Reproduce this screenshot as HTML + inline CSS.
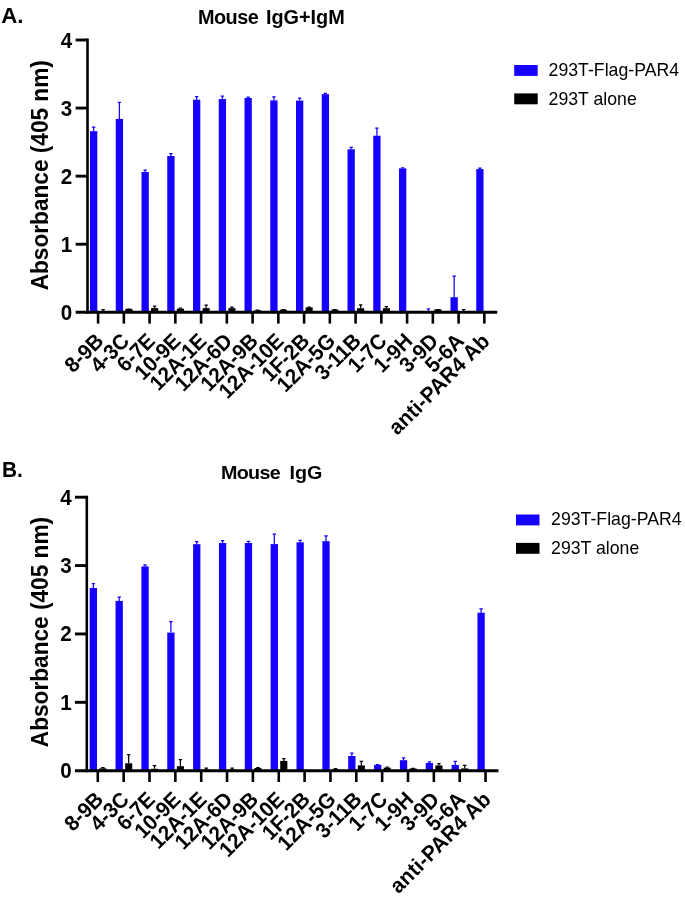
<!DOCTYPE html>
<html><head><meta charset="utf-8"><title>Figure</title>
<style>
html,body{margin:0;padding:0;background:#fff;}
svg{display:block;}
text{font-family:"Liberation Sans",Arial,sans-serif;fill:#000;}
.ab{font-weight:bold;font-size:20.6px;}
.yl{font-weight:bold;font-size:22.65px;}
.ti{font-weight:bold;font-size:19px;}
.lt{font-weight:bold;font-size:22px;}
.lg{font-size:17.7px;}
</style></head><body>
<svg width="685" height="900" viewBox="0 0 685 900">
<rect width="685" height="900" fill="#fff"/>
<g id="chartA">
<rect x="90.00" y="131.20" width="7.3" height="181.10" fill="#1600ff"/>
<path d="M93.65 131.20V127.00M91.95 127.00H95.35" stroke="#1600ff" stroke-width="1.25" fill="none"/>
<rect x="99.60" y="311.20" width="7.1" height="1.10" fill="#000"/>
<path d="M103.15 311.20V309.50M101.45 309.50H104.85" stroke="#000" stroke-width="1.25" fill="none"/>
<rect x="115.75" y="118.90" width="7.3" height="193.40" fill="#1600ff"/>
<path d="M119.40 118.90V102.30M117.70 102.30H121.10" stroke="#1600ff" stroke-width="1.25" fill="none"/>
<rect x="125.35" y="308.90" width="7.1" height="3.40" fill="#000"/>
<path d="M128.90 308.90V309.10M127.20 309.10H130.60" stroke="#000" stroke-width="1.25" fill="none"/>
<rect x="141.50" y="172.00" width="7.3" height="140.30" fill="#1600ff"/>
<path d="M145.15 172.00V170.00M143.45 170.00H146.85" stroke="#1600ff" stroke-width="1.25" fill="none"/>
<rect x="151.10" y="308.10" width="7.1" height="4.20" fill="#000"/>
<path d="M154.65 308.10V306.10M152.95 306.10H156.35" stroke="#000" stroke-width="1.25" fill="none"/>
<rect x="167.25" y="156.00" width="7.3" height="156.30" fill="#1600ff"/>
<path d="M170.90 156.00V153.70M169.20 153.70H172.60" stroke="#1600ff" stroke-width="1.25" fill="none"/>
<rect x="176.85" y="308.70" width="7.1" height="3.60" fill="#000"/>
<path d="M180.40 308.70V308.00M178.70 308.00H182.10" stroke="#000" stroke-width="1.25" fill="none"/>
<rect x="193.00" y="99.70" width="7.3" height="212.60" fill="#1600ff"/>
<path d="M196.65 99.70V96.60M194.95 96.60H198.35" stroke="#1600ff" stroke-width="1.25" fill="none"/>
<rect x="202.60" y="308.10" width="7.1" height="4.20" fill="#000"/>
<path d="M206.15 308.10V305.10M204.45 305.10H207.85" stroke="#000" stroke-width="1.25" fill="none"/>
<rect x="218.75" y="99.05" width="7.3" height="213.25" fill="#1600ff"/>
<path d="M222.40 99.05V96.10M220.70 96.10H224.10" stroke="#1600ff" stroke-width="1.25" fill="none"/>
<rect x="228.35" y="308.10" width="7.1" height="4.20" fill="#000"/>
<path d="M231.90 308.10V307.00M230.20 307.00H233.60" stroke="#000" stroke-width="1.25" fill="none"/>
<rect x="244.50" y="98.00" width="7.3" height="214.30" fill="#1600ff"/>
<path d="M248.15 98.00V97.00M246.45 97.00H249.85" stroke="#1600ff" stroke-width="1.25" fill="none"/>
<rect x="254.10" y="310.30" width="7.1" height="2.00" fill="#000"/>
<path d="M257.65 310.30V310.10M255.95 310.10H259.35" stroke="#000" stroke-width="1.25" fill="none"/>
<rect x="270.25" y="100.40" width="7.3" height="211.90" fill="#1600ff"/>
<path d="M273.90 100.40V96.80M272.20 96.80H275.60" stroke="#1600ff" stroke-width="1.25" fill="none"/>
<rect x="279.85" y="309.60" width="7.1" height="2.70" fill="#000"/>
<path d="M283.40 309.60V309.60M281.70 309.60H285.10" stroke="#000" stroke-width="1.25" fill="none"/>
<rect x="296.00" y="100.60" width="7.3" height="211.70" fill="#1600ff"/>
<path d="M299.65 100.60V98.10M297.95 98.10H301.35" stroke="#1600ff" stroke-width="1.25" fill="none"/>
<rect x="305.60" y="307.40" width="7.1" height="4.90" fill="#000"/>
<path d="M309.15 307.40V307.20M307.45 307.20H310.85" stroke="#000" stroke-width="1.25" fill="none"/>
<rect x="321.75" y="94.20" width="7.3" height="218.10" fill="#1600ff"/>
<path d="M325.40 94.20V93.30M323.70 93.30H327.10" stroke="#1600ff" stroke-width="1.25" fill="none"/>
<rect x="331.35" y="309.60" width="7.1" height="2.70" fill="#000"/>
<path d="M334.90 309.60V309.60M333.20 309.60H336.60" stroke="#000" stroke-width="1.25" fill="none"/>
<rect x="347.50" y="149.30" width="7.3" height="163.00" fill="#1600ff"/>
<path d="M351.15 149.30V147.30M349.45 147.30H352.85" stroke="#1600ff" stroke-width="1.25" fill="none"/>
<rect x="357.10" y="308.20" width="7.1" height="4.10" fill="#000"/>
<path d="M360.65 308.20V304.90M358.95 304.90H362.35" stroke="#000" stroke-width="1.25" fill="none"/>
<rect x="373.25" y="135.70" width="7.3" height="176.60" fill="#1600ff"/>
<path d="M376.90 135.70V128.10M375.20 128.10H378.60" stroke="#1600ff" stroke-width="1.25" fill="none"/>
<rect x="382.85" y="308.20" width="7.1" height="4.10" fill="#000"/>
<path d="M386.40 308.20V306.50M384.70 306.50H388.10" stroke="#000" stroke-width="1.25" fill="none"/>
<rect x="399.00" y="168.40" width="7.3" height="143.90" fill="#1600ff"/>
<path d="M402.65 168.40V167.80M400.95 167.80H404.35" stroke="#1600ff" stroke-width="1.25" fill="none"/>
<rect x="408.60" y="311.00" width="7.1" height="1.30" fill="#000"/>
<rect x="424.75" y="311.50" width="7.3" height="0.80" fill="#1600ff"/>
<path d="M428.40 311.50V308.80M426.70 308.80H430.10" stroke="#1600ff" stroke-width="1.25" fill="none"/>
<rect x="434.35" y="309.30" width="7.1" height="3.00" fill="#000"/>
<path d="M437.90 309.30V309.60M436.20 309.60H439.60" stroke="#000" stroke-width="1.25" fill="none"/>
<rect x="450.50" y="297.20" width="7.3" height="15.10" fill="#1600ff"/>
<path d="M454.15 297.20V276.10M452.45 276.10H455.85" stroke="#1600ff" stroke-width="1.25" fill="none"/>
<rect x="460.10" y="311.00" width="7.1" height="1.30" fill="#000"/>
<path d="M463.65 311.00V309.60M461.95 309.60H465.35" stroke="#000" stroke-width="1.25" fill="none"/>
<rect x="476.25" y="169.10" width="7.3" height="143.20" fill="#1600ff"/>
<path d="M479.90 169.10V168.10M478.20 168.10H481.60" stroke="#1600ff" stroke-width="1.25" fill="none"/>
<rect x="485.85" y="312.00" width="7.1" height="0.30" fill="#000"/>
<path d="M87.50 38.55V313.75" stroke="#000" stroke-width="2.6" fill="none"/>
<path d="M75.65 312.30H497.23" stroke="#000" stroke-width="2.9" fill="none"/>
<path d="M75.65 244.23H87.50" stroke="#000" stroke-width="2.9"/>
<path d="M75.65 176.15H87.50" stroke="#000" stroke-width="2.9"/>
<path d="M75.65 108.07H87.50" stroke="#000" stroke-width="2.9"/>
<path d="M75.65 40.00H87.50" stroke="#000" stroke-width="2.9"/>
<text transform="translate(72.30,319.80) scale(1,1.04)" text-anchor="end" class="ab">0</text>
<text transform="translate(72.30,251.73) scale(1,1.04)" text-anchor="end" class="ab">1</text>
<text transform="translate(72.30,183.65) scale(1,1.04)" text-anchor="end" class="ab">2</text>
<text transform="translate(72.30,115.57) scale(1,1.04)" text-anchor="end" class="ab">3</text>
<text transform="translate(72.30,47.50) scale(1,1.04)" text-anchor="end" class="ab">4</text>
<path d="M98.10 312.30V323.60" stroke="#000" stroke-width="2.6"/>
<text transform="translate(104.80,342.30) rotate(-45) scale(1,1.04)" text-anchor="end" class="ab">8-9B</text>
<path d="M123.85 312.30V323.60" stroke="#000" stroke-width="2.6"/>
<text transform="translate(130.55,342.30) rotate(-45) scale(1,1.04)" text-anchor="end" class="ab">4-3C</text>
<path d="M149.60 312.30V323.60" stroke="#000" stroke-width="2.6"/>
<text transform="translate(156.30,342.30) rotate(-45) scale(1,1.04)" text-anchor="end" class="ab">6-7E</text>
<path d="M175.35 312.30V323.60" stroke="#000" stroke-width="2.6"/>
<text transform="translate(182.05,342.30) rotate(-45) scale(1,1.04)" text-anchor="end" class="ab">10-9E</text>
<path d="M201.10 312.30V323.60" stroke="#000" stroke-width="2.6"/>
<text transform="translate(207.80,342.30) rotate(-45) scale(1,1.04)" text-anchor="end" class="ab">12A-1E</text>
<path d="M226.85 312.30V323.60" stroke="#000" stroke-width="2.6"/>
<text transform="translate(233.55,342.30) rotate(-45) scale(1,1.04)" text-anchor="end" class="ab">12A-6D</text>
<path d="M252.60 312.30V323.60" stroke="#000" stroke-width="2.6"/>
<text transform="translate(259.30,342.30) rotate(-45) scale(1,1.04)" text-anchor="end" class="ab">12A-9B</text>
<path d="M278.35 312.30V323.60" stroke="#000" stroke-width="2.6"/>
<text transform="translate(285.05,342.30) rotate(-45) scale(1,1.04)" text-anchor="end" class="ab">12A-10E</text>
<path d="M304.10 312.30V323.60" stroke="#000" stroke-width="2.6"/>
<text transform="translate(310.80,342.30) rotate(-45) scale(1,1.04)" text-anchor="end" class="ab">1F-2B</text>
<path d="M329.85 312.30V323.60" stroke="#000" stroke-width="2.6"/>
<text transform="translate(336.55,342.30) rotate(-45) scale(1,1.04)" text-anchor="end" class="ab">12A-5G</text>
<path d="M355.60 312.30V323.60" stroke="#000" stroke-width="2.6"/>
<text transform="translate(362.30,342.30) rotate(-45) scale(1,1.04)" text-anchor="end" class="ab">3-11B</text>
<path d="M381.35 312.30V323.60" stroke="#000" stroke-width="2.6"/>
<text transform="translate(388.05,342.30) rotate(-45) scale(1,1.04)" text-anchor="end" class="ab">1-7C</text>
<path d="M407.10 312.30V323.60" stroke="#000" stroke-width="2.6"/>
<text transform="translate(413.80,342.30) rotate(-45) scale(1,1.04)" text-anchor="end" class="ab">1-9H</text>
<path d="M432.85 312.30V323.60" stroke="#000" stroke-width="2.6"/>
<text transform="translate(439.55,342.30) rotate(-45) scale(1,1.04)" text-anchor="end" class="ab">3-9D</text>
<path d="M458.60 312.30V323.60" stroke="#000" stroke-width="2.6"/>
<text transform="translate(465.30,342.30) rotate(-45) scale(1,1.04)" text-anchor="end" class="ab">5-6A</text>
<path d="M484.35 312.30V323.60" stroke="#000" stroke-width="2.6"/>
<text transform="translate(491.05,342.30) rotate(-45) scale(1,1.04)" text-anchor="end" class="ab" letter-spacing="0.28">anti-PAR4 Ab</text>
<text transform="translate(48.2,175.25) rotate(-90) scale(1,1.04)" text-anchor="middle" class="yl">Absorbance (405 nm)</text>
<text transform="translate(198.04,23.80) scale(1.046,1.023)" class="ti"><tspan letter-spacing="-0.53">Mouse</tspan><tspan dx="2.1"> </tspan>IgG+IgM</text>
<text transform="translate(1.25,22.80) scale(1.0125,1.04)" class="lt">A.</text>
<rect x="514.20" y="65.00" width="23.5" height="10.9" fill="#1600ff"/>
<rect x="514.20" y="93.40" width="23.5" height="10.9" fill="#000"/>
<text transform="translate(548.60,76.25) scale(1,1.005)" class="lg">293T-Flag-PAR4</text>
<text transform="translate(548.60,104.75) scale(1,1.005)" class="lg">293T alone</text>
</g>
<g id="chartB">
<rect x="89.70" y="588.00" width="7.3" height="182.70" fill="#1600ff"/>
<path d="M93.35 588.00V583.70M91.65 583.70H95.05" stroke="#1600ff" stroke-width="1.25" fill="none"/>
<rect x="99.30" y="768.30" width="7.1" height="2.40" fill="#000"/>
<path d="M102.85 768.30V767.70M101.15 767.70H104.55" stroke="#000" stroke-width="1.25" fill="none"/>
<rect x="115.55" y="600.90" width="7.3" height="169.80" fill="#1600ff"/>
<path d="M119.20 600.90V597.20M117.50 597.20H120.90" stroke="#1600ff" stroke-width="1.25" fill="none"/>
<rect x="125.15" y="763.30" width="7.1" height="7.40" fill="#000"/>
<path d="M128.70 763.30V754.50M127.00 754.50H130.40" stroke="#000" stroke-width="1.25" fill="none"/>
<rect x="141.40" y="566.40" width="7.3" height="204.30" fill="#1600ff"/>
<path d="M145.05 566.40V564.90M143.35 564.90H146.75" stroke="#1600ff" stroke-width="1.25" fill="none"/>
<rect x="151.00" y="768.80" width="7.1" height="1.90" fill="#000"/>
<path d="M154.55 768.80V765.60M152.85 765.60H156.25" stroke="#000" stroke-width="1.25" fill="none"/>
<rect x="167.25" y="632.60" width="7.3" height="138.10" fill="#1600ff"/>
<path d="M170.90 632.60V621.70M169.20 621.70H172.60" stroke="#1600ff" stroke-width="1.25" fill="none"/>
<rect x="176.85" y="766.20" width="7.1" height="4.50" fill="#000"/>
<path d="M180.40 766.20V759.60M178.70 759.60H182.10" stroke="#000" stroke-width="1.25" fill="none"/>
<rect x="193.10" y="544.20" width="7.3" height="226.50" fill="#1600ff"/>
<path d="M196.75 544.20V541.50M195.05 541.50H198.45" stroke="#1600ff" stroke-width="1.25" fill="none"/>
<rect x="202.70" y="769.50" width="7.1" height="1.20" fill="#000"/>
<path d="M206.25 769.50V768.10M204.55 768.10H207.95" stroke="#000" stroke-width="1.25" fill="none"/>
<rect x="218.95" y="543.00" width="7.3" height="227.70" fill="#1600ff"/>
<path d="M222.60 543.00V540.70M220.90 540.70H224.30" stroke="#1600ff" stroke-width="1.25" fill="none"/>
<rect x="228.55" y="769.50" width="7.1" height="1.20" fill="#000"/>
<path d="M232.10 769.50V768.10M230.40 768.10H233.80" stroke="#000" stroke-width="1.25" fill="none"/>
<rect x="244.80" y="543.00" width="7.3" height="227.70" fill="#1600ff"/>
<path d="M248.45 543.00V541.40M246.75 541.40H250.15" stroke="#1600ff" stroke-width="1.25" fill="none"/>
<rect x="254.40" y="768.00" width="7.1" height="2.70" fill="#000"/>
<path d="M257.95 768.00V767.70M256.25 767.70H259.65" stroke="#000" stroke-width="1.25" fill="none"/>
<rect x="270.65" y="544.10" width="7.3" height="226.60" fill="#1600ff"/>
<path d="M274.30 544.10V534.20M272.60 534.20H276.00" stroke="#1600ff" stroke-width="1.25" fill="none"/>
<rect x="280.25" y="760.90" width="7.1" height="9.80" fill="#000"/>
<path d="M283.80 760.90V758.60M282.10 758.60H285.50" stroke="#000" stroke-width="1.25" fill="none"/>
<rect x="296.50" y="542.30" width="7.3" height="228.40" fill="#1600ff"/>
<path d="M300.15 542.30V540.30M298.45 540.30H301.85" stroke="#1600ff" stroke-width="1.25" fill="none"/>
<rect x="322.35" y="541.20" width="7.3" height="229.50" fill="#1600ff"/>
<path d="M326.00 541.20V535.90M324.30 535.90H327.70" stroke="#1600ff" stroke-width="1.25" fill="none"/>
<rect x="331.95" y="769.00" width="7.1" height="1.70" fill="#000"/>
<path d="M335.50 769.00V768.60M333.80 768.60H337.20" stroke="#000" stroke-width="1.25" fill="none"/>
<rect x="348.20" y="756.00" width="7.3" height="14.70" fill="#1600ff"/>
<path d="M351.85 756.00V753.10M350.15 753.10H353.55" stroke="#1600ff" stroke-width="1.25" fill="none"/>
<rect x="357.80" y="765.40" width="7.1" height="5.30" fill="#000"/>
<path d="M361.35 765.40V761.30M359.65 761.30H363.05" stroke="#000" stroke-width="1.25" fill="none"/>
<rect x="374.05" y="764.90" width="7.3" height="5.80" fill="#1600ff"/>
<path d="M377.70 764.90V764.60M376.00 764.60H379.40" stroke="#1600ff" stroke-width="1.25" fill="none"/>
<rect x="383.65" y="767.70" width="7.1" height="3.00" fill="#000"/>
<path d="M387.20 767.70V767.10M385.50 767.10H388.90" stroke="#000" stroke-width="1.25" fill="none"/>
<rect x="399.90" y="760.20" width="7.3" height="10.50" fill="#1600ff"/>
<path d="M403.55 760.20V757.80M401.85 757.80H405.25" stroke="#1600ff" stroke-width="1.25" fill="none"/>
<rect x="409.50" y="768.50" width="7.1" height="2.20" fill="#000"/>
<path d="M413.05 768.50V768.30M411.35 768.30H414.75" stroke="#000" stroke-width="1.25" fill="none"/>
<rect x="425.75" y="763.00" width="7.3" height="7.70" fill="#1600ff"/>
<path d="M429.40 763.00V761.80M427.70 761.80H431.10" stroke="#1600ff" stroke-width="1.25" fill="none"/>
<rect x="435.35" y="765.40" width="7.1" height="5.30" fill="#000"/>
<path d="M438.90 765.40V763.60M437.20 763.60H440.60" stroke="#000" stroke-width="1.25" fill="none"/>
<rect x="451.60" y="764.90" width="7.3" height="5.80" fill="#1600ff"/>
<path d="M455.25 764.90V761.30M453.55 761.30H456.95" stroke="#1600ff" stroke-width="1.25" fill="none"/>
<rect x="461.20" y="768.40" width="7.1" height="2.30" fill="#000"/>
<path d="M464.75 768.40V765.30M463.05 765.30H466.45" stroke="#000" stroke-width="1.25" fill="none"/>
<rect x="477.45" y="612.70" width="7.3" height="158.00" fill="#1600ff"/>
<path d="M481.10 612.70V608.80M479.40 608.80H482.80" stroke="#1600ff" stroke-width="1.25" fill="none"/>
<path d="M86.80 495.75V772.15" stroke="#000" stroke-width="2.6" fill="none"/>
<path d="M74.95 770.70H498.48" stroke="#000" stroke-width="2.9" fill="none"/>
<path d="M74.95 702.33H86.80" stroke="#000" stroke-width="2.9"/>
<path d="M74.95 633.95H86.80" stroke="#000" stroke-width="2.9"/>
<path d="M74.95 565.58H86.80" stroke="#000" stroke-width="2.9"/>
<path d="M74.95 497.20H86.80" stroke="#000" stroke-width="2.9"/>
<text transform="translate(71.60,778.20) scale(1,1.04)" text-anchor="end" class="ab">0</text>
<text transform="translate(71.60,709.83) scale(1,1.04)" text-anchor="end" class="ab">1</text>
<text transform="translate(71.60,641.45) scale(1,1.04)" text-anchor="end" class="ab">2</text>
<text transform="translate(71.60,573.08) scale(1,1.04)" text-anchor="end" class="ab">3</text>
<text transform="translate(71.60,504.70) scale(1,1.04)" text-anchor="end" class="ab">4</text>
<path d="M97.80 770.70V782.00" stroke="#000" stroke-width="2.6"/>
<text transform="translate(104.50,800.70) rotate(-45) scale(1,1.04)" text-anchor="end" class="ab">8-9B</text>
<path d="M123.65 770.70V782.00" stroke="#000" stroke-width="2.6"/>
<text transform="translate(130.35,800.70) rotate(-45) scale(1,1.04)" text-anchor="end" class="ab">4-3C</text>
<path d="M149.50 770.70V782.00" stroke="#000" stroke-width="2.6"/>
<text transform="translate(156.20,800.70) rotate(-45) scale(1,1.04)" text-anchor="end" class="ab">6-7E</text>
<path d="M175.35 770.70V782.00" stroke="#000" stroke-width="2.6"/>
<text transform="translate(182.05,800.70) rotate(-45) scale(1,1.04)" text-anchor="end" class="ab">10-9E</text>
<path d="M201.20 770.70V782.00" stroke="#000" stroke-width="2.6"/>
<text transform="translate(207.90,800.70) rotate(-45) scale(1,1.04)" text-anchor="end" class="ab">12A-1E</text>
<path d="M227.05 770.70V782.00" stroke="#000" stroke-width="2.6"/>
<text transform="translate(233.75,800.70) rotate(-45) scale(1,1.04)" text-anchor="end" class="ab">12A-6D</text>
<path d="M252.90 770.70V782.00" stroke="#000" stroke-width="2.6"/>
<text transform="translate(259.60,800.70) rotate(-45) scale(1,1.04)" text-anchor="end" class="ab">12A-9B</text>
<path d="M278.75 770.70V782.00" stroke="#000" stroke-width="2.6"/>
<text transform="translate(285.45,800.70) rotate(-45) scale(1,1.04)" text-anchor="end" class="ab">12A-10E</text>
<path d="M304.60 770.70V782.00" stroke="#000" stroke-width="2.6"/>
<text transform="translate(311.30,800.70) rotate(-45) scale(1,1.04)" text-anchor="end" class="ab">1F-2B</text>
<path d="M330.45 770.70V782.00" stroke="#000" stroke-width="2.6"/>
<text transform="translate(337.15,800.70) rotate(-45) scale(1,1.04)" text-anchor="end" class="ab">12A-5G</text>
<path d="M356.30 770.70V782.00" stroke="#000" stroke-width="2.6"/>
<text transform="translate(363.00,800.70) rotate(-45) scale(1,1.04)" text-anchor="end" class="ab">3-11B</text>
<path d="M382.15 770.70V782.00" stroke="#000" stroke-width="2.6"/>
<text transform="translate(388.85,800.70) rotate(-45) scale(1,1.04)" text-anchor="end" class="ab">1-7C</text>
<path d="M408.00 770.70V782.00" stroke="#000" stroke-width="2.6"/>
<text transform="translate(414.70,800.70) rotate(-45) scale(1,1.04)" text-anchor="end" class="ab">1-9H</text>
<path d="M433.85 770.70V782.00" stroke="#000" stroke-width="2.6"/>
<text transform="translate(440.55,800.70) rotate(-45) scale(1,1.04)" text-anchor="end" class="ab">3-9D</text>
<path d="M459.70 770.70V782.00" stroke="#000" stroke-width="2.6"/>
<text transform="translate(466.40,800.70) rotate(-45) scale(1,1.04)" text-anchor="end" class="ab">5-6A</text>
<path d="M485.55 770.70V782.00" stroke="#000" stroke-width="2.6"/>
<text transform="translate(492.25,800.70) rotate(-45) scale(1,1.04)" text-anchor="end" class="ab" letter-spacing="0.28">anti-PAR4 Ab</text>
<text transform="translate(47.5,632.05) rotate(-90) scale(1,1.04)" text-anchor="middle" class="yl">Absorbance (405 nm)</text>
<text transform="translate(221.05,478.65) scale(1.0385,1.0115)" class="ti"><tspan letter-spacing="-0.7">Mouse</tspan><tspan dx="4.0"> </tspan>IgG</text>
<text transform="translate(1.93,477.10) scale(0.947,1.013)" class="lt">B.</text>
<rect x="516.00" y="514.50" width="23.5" height="10.9" fill="#1600ff"/>
<rect x="516.00" y="542.90" width="23.5" height="10.9" fill="#000"/>
<text transform="translate(551.10,525.30) scale(1,1.005)" class="lg">293T-Flag-PAR4</text>
<text transform="translate(551.10,553.80) scale(1,1.005)" class="lg">293T alone</text>
</g>
</svg>
</body></html>
